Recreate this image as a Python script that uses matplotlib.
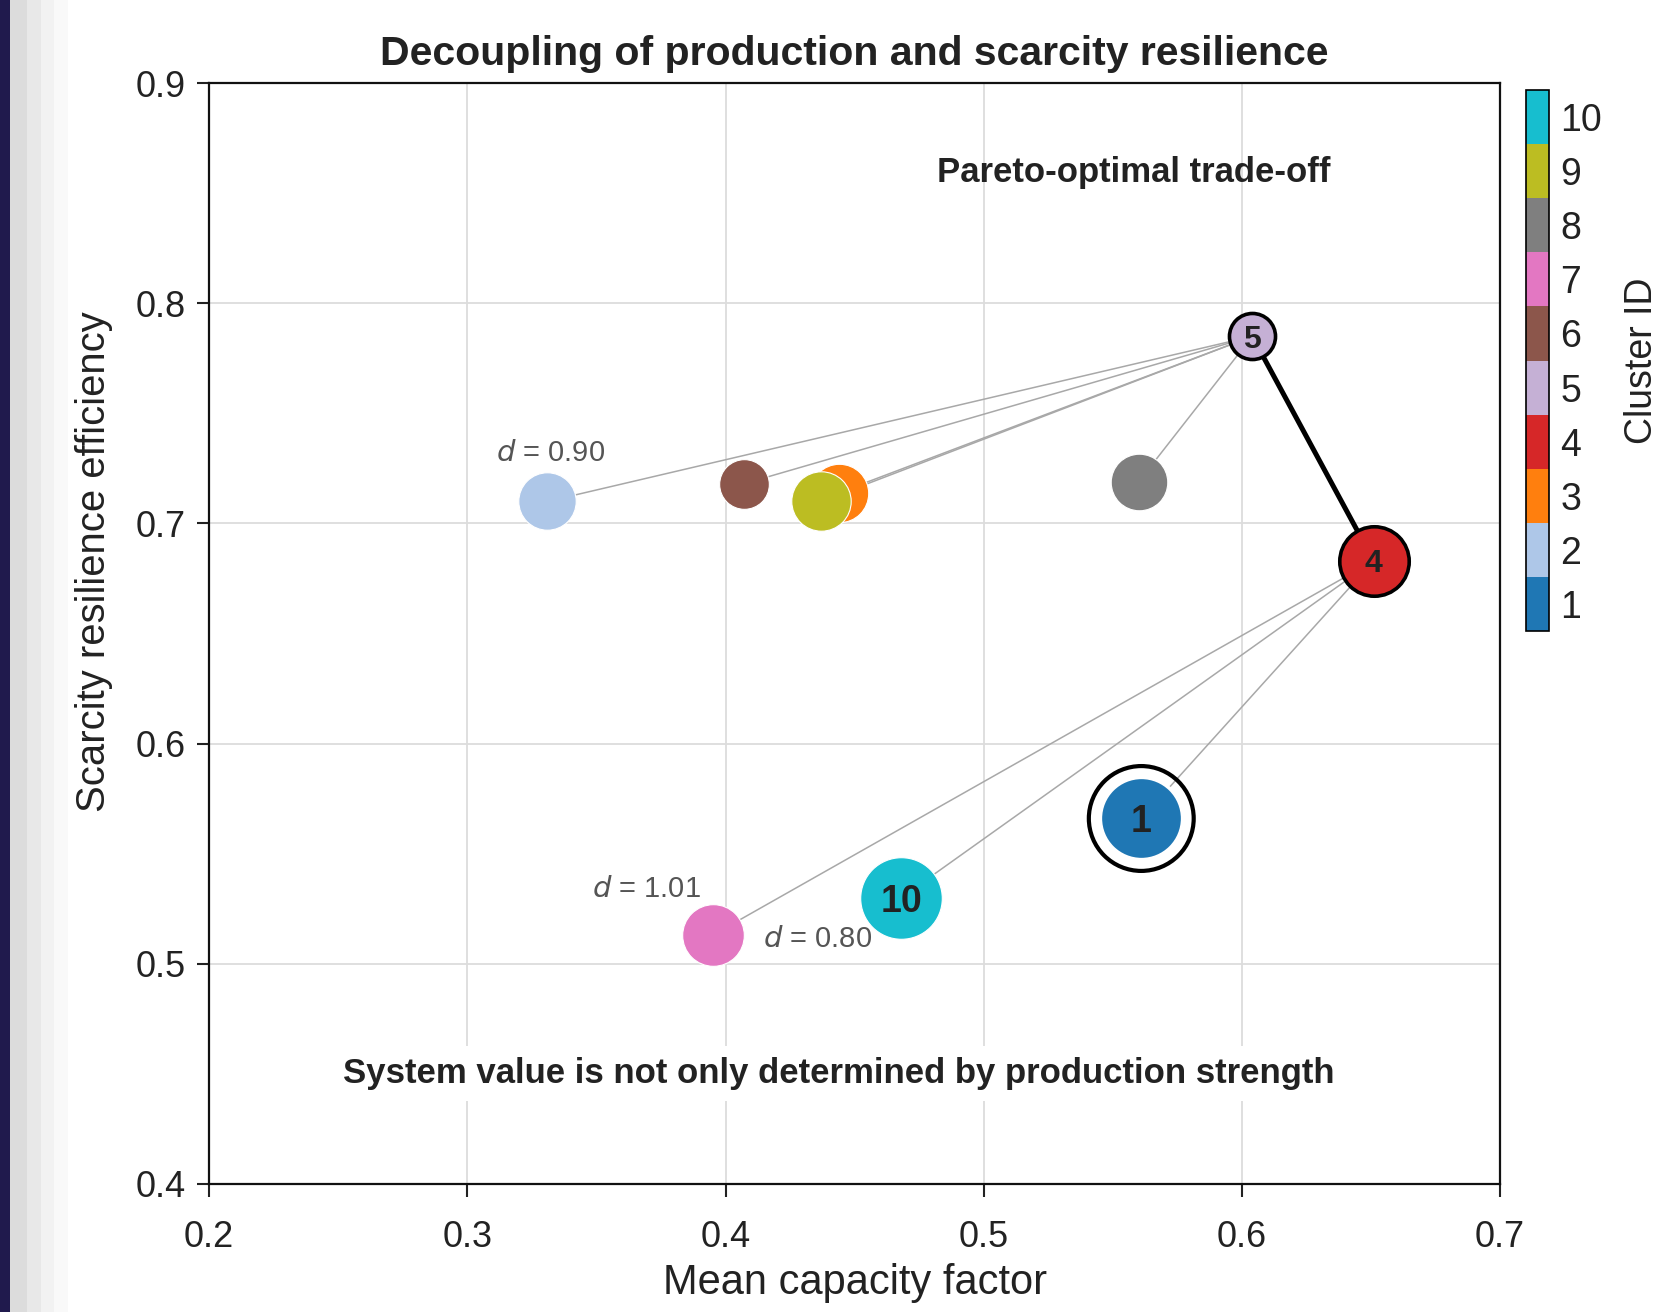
import matplotlib
matplotlib.use("Agg")
import matplotlib.pyplot as plt
from matplotlib.colors import ListedColormap, BoundaryNorm
from matplotlib.patches import Rectangle
import matplotlib.colorbar as mcolorbar

plt.rcParams['font.family'] = ['Liberation Sans', 'DejaVu Sans']

# ---------------- data ----------------
cluster_ids = [1, 2, 3, 4, 5, 6, 7, 8, 9, 10]
capacity_factor = [0.561, 0.331, 0.444, 0.651, 0.604, 0.407, 0.395, 0.560, 0.437, 0.468]
resilience = [0.566, 0.710, 0.714, 0.683, 0.785, 0.718, 0.513, 0.719, 0.710, 0.530]
marker_area = [3500, 1710, 1770, 2500, 1100, 1280, 1970, 1660, 1830, 3450]
cluster_colors = ['#1f77b4', '#aec7e8', '#ff7f0e', '#d62728', '#c5b0d5',
                  '#8c564b', '#e377c2', '#7f7f7f', '#bcbd22', '#17becf']
# links: (from, to)
links_from_5 = [2, 6, 3, 9, 8]
links_from_4 = [7, 10, 1]
pareto_link = (5, 4)
labelled_nodes = {1: 27, 4: 23, 5: 23, 10: 27}
distance_labels = [("d = 0.90", 0.3322, 0.7319),
                   ("d = 1.01", 0.3694, 0.5342),
                   ("d = 0.80", 0.4355, 0.5114)]
x_ticks = [0.2, 0.3, 0.4, 0.5, 0.6, 0.7]
y_ticks = [0.4, 0.5, 0.6, 0.7, 0.8, 0.9]

# ---------------- figure ----------------
fig = plt.figure(figsize=(16.73, 13.12), dpi=100)
W, H = 1673.0, 1312.0

# left-edge decoration (screenshot frame)
bands = [(0, 10, '#201a4d'), (10, 27, '#dcdcdc'), (27, 41, '#e8e8e8'),
         (41, 54, '#f2f2f2'), (54, 68, '#f9f9f9')]
for x0, x1, c in bands:
    fig.patches.append(Rectangle((x0 / W, 0), (x1 - x0) / W, 1, transform=fig.transFigure,
                                 facecolor=c, edgecolor='none', zorder=-10))

ax = fig.add_axes([0.125, 0.0976, 0.7717, 0.839])
ax.set_xlim(0.2, 0.7)
ax.set_ylim(0.4, 0.9)
ax.set_xticks(x_ticks)
ax.set_yticks(y_ticks)
ax.set_xticklabels([f"{v:.1f}" for v in x_ticks])
ax.set_yticklabels([f"{v:.1f}" for v in y_ticks])
ax.tick_params(axis='both', labelsize=26, direction='out', length=9, width=1.5,
               colors='#222222')
ax.tick_params(axis='x', pad=17)
ax.tick_params(axis='y', pad=8)
ax.grid(True, color='#dcdcdc', linewidth=1.3, zorder=0)
ax.set_axisbelow(True)
for sp in ax.spines.values():
    sp.set_linewidth(1.6)
    sp.set_color('#111111')

idx = {c: i for i, c in enumerate(cluster_ids)}

def pos(c):
    i = idx[c]
    return capacity_factor[i], resilience[i]

# thin links
for src, targets in ((5, links_from_5), (4, links_from_4)):
    x0, y0 = pos(src)
    for t in targets:
        x1, y1 = pos(t)
        ax.plot([x0, x1], [y0, y1], color='#a8a8a8', lw=1.1, zorder=2)

# pareto link
(xa, ya), (xb, yb) = pos(pareto_link[0]), pos(pareto_link[1])
ax.plot([xa, xb], [ya, yb], color='black', lw=3.6, zorder=3, solid_capstyle='round')

# nodes
for c in cluster_ids:
    i = idx[c]
    if c in (4, 5):
        ec, lw = 'black', 2.6
    elif c == 1:
        ec, lw = 'white', 2.5
    else:
        ec, lw = 'white', 0.8
    ax.scatter(capacity_factor[i], resilience[i], s=marker_area[i], color=cluster_colors[i],
               edgecolors=ec, linewidths=lw, zorder=4)

# ring around cluster 1
i1 = idx[1]
ax.scatter(capacity_factor[i1], resilience[i1], s=5700, facecolors='none',
           edgecolors='black', linewidths=3.0, zorder=5)

for c, fs in labelled_nodes.items():
    x, y = pos(c)
    ax.text(x, y, str(c), ha='center', va='center_baseline', fontsize=fs,
            fontweight='bold', color='#222222', zorder=6)

for txt, x, y in distance_labels:
    ax.text(x, y, r"$\it{d}$" + txt[1:], ha='center', va='center', fontsize=21,
            color='#555555', zorder=6)

ax.text(0.6343, 0.8593, "Pareto-optimal trade-off", ha='right', va='center',
        fontsize=25, fontweight='bold', color='#222222', zorder=6)
ax.text(0.4438, 0.450, "System value is not only determined by production strength",
        ha='center', va='center', fontsize=25, fontweight='bold', color='#222222', zorder=6,
        bbox=dict(facecolor='white', edgecolor='none', pad=8))

ax.set_title("Decoupling of production and scarcity resilience", fontsize=29.5,
             fontweight='bold', color='#222222', pad=13)
ax.set_xlabel("Mean capacity factor", fontsize=30, color='#222222', labelpad=6)
ax.set_ylabel("Scarcity resilience efficiency", fontsize=28.8, color='#222222',
              labelpad=16, y=0.565)

# colorbar
cax = fig.add_axes([0.912, 0.5187, 0.014, 0.413])
cmap = ListedColormap(cluster_colors)
norm = BoundaryNorm([c - 0.5 for c in cluster_ids] + [cluster_ids[-1] + 0.5], cmap.N)
cb = mcolorbar.ColorbarBase(cax, cmap=cmap, norm=norm, ticks=cluster_ids)
cb.ax.minorticks_off()
cb.ax.tick_params(labelsize=27, length=0, pad=8, colors='#222222')
cb.outline.set_linewidth(1.2)
cb.set_label("Cluster ID", fontsize=27, color='#222222', labelpad=16)

fig.savefig("out.png", dpi=100)
